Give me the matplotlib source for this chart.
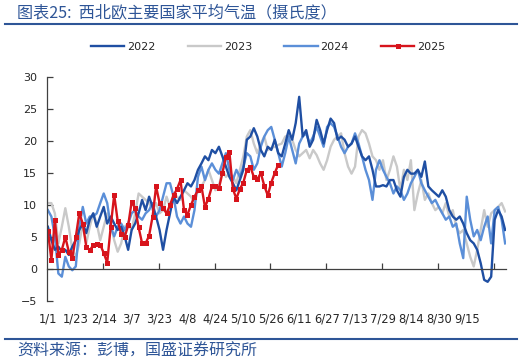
import matplotlib
matplotlib.use("Agg")
import matplotlib.pyplot as plt
from matplotlib.lines import Line2D
import numpy as np

plt.rcParams["font.family"] = ["DejaVu Sans", "Noto Sans CJK SC"]

TITLE = "图表25:  西北欧主要国家平均气温（摄氏度）"
SOURCE = "资料来源：彭博，国盛证券研究所"

# category axis: one slot per observation day, values sampled every 2 slots
N_CATEGORIES = 263
STEP = 2
LABEL_EVERY = 16
TICK_EVERY = 32
DATE_LABELS = ["1/1", "1/23", "2/14", "3/7", "3/23", "4/8", "4/24", "5/10",
               "5/26", "6/11", "6/27", "7/13", "7/29", "8/14", "8/30", "9/15"]
Y_TICKS = [-5, 0, 5, 10, 15, 20, 25, 30]

temp_2022 = [
    6.6, 4.5, 3.0, 3.5, 2.7, 3.0, 2.2, 3.5, 4.5, 6.1, 7.1, 5.6,
    7.7, 8.7, 6.6, 8.2, 9.7, 7.1, 8.2, 7.1, 6.1, 6.6, 5.1, 3.0, 6.1, 7.1, 8.7,
    10.8, 9.2, 11.3, 9.7, 8.2, 6.1, 3.0, 6.1,
    8.7, 11.3, 10.3, 11.3, 12.3, 13.4, 12.9, 13.9, 15.5, 16.5, 17.6, 17.0,
    18.6, 18.1, 19.1, 17.6, 16.0, 14.4, 13.4, 12.3, 13.9, 15.5,
    20.2, 20.7, 22.0, 20.7, 18.6,
    17.6, 19.1, 18.6, 20.2, 18.1, 17.6, 19.6, 21.7, 20.2, 22.8, 26.9, 20.7,
    21.7, 19.1, 20.2, 23.3, 21.7, 19.6, 21.7, 23.5, 22.8, 20.2, 20.7,
    20.2, 19.1, 19.6, 20.7, 19.1, 17.6, 17.0, 17.6, 15.5, 12.9, 12.9, 13.1,
    12.9, 13.9, 13.9, 12.3, 11.3, 14.4, 15.5, 14.9, 14.9, 15.5, 14.4,
    16.8, 12.9, 12.3, 11.8, 11.3, 12.3, 11.3, 9.2, 8.2, 7.7, 8.2, 7.1, 5.6,
    4.5, 4.0, 3.0, 0.9, -1.7, -2.0, -1.2, 7.7, 9.2, 8.2,
    6.1,
]

temp_2023 = [
    10.3, 10.3, 8.7, 4.0, 6.6, 9.5, 6.6, 3.0, 1.9, 4.0, 7.1, 4.0,
    6.6, 8.7, 7.1, 4.5, 6.6, 8.7, 7.1, 4.5, 2.7, 4.0, 6.6, 7.1, 6.1, 8.7,
    11.8, 11.3, 10.8, 10.3, 9.2, 10.3, 8.7, 9.2, 11.3,
    9.7, 11.8, 11.3, 10.8, 12.3, 11.8, 11.3, 10.3, 12.3, 12.9, 13.9, 15.5,
    13.9, 12.3, 12.9, 15.5, 14.4, 14.9, 14.4, 13.4, 15.5, 17.6,
    20.7, 21.7, 19.6, 18.1, 19.6,
    20.7, 18.6, 18.9, 19.1, 19.4, 19.6, 20.7, 20.9, 20.2, 18.6, 17.6, 18.1,
    18.6, 17.3, 18.6, 17.8, 16.5, 15.5, 17.0, 19.1, 20.2, 20.7, 21.2,
    18.1, 16.0, 14.9, 16.0, 20.7, 21.7, 21.2, 19.6, 17.6, 17.0, 15.5, 17.0,
    13.9, 15.5, 17.6, 16.0, 12.3, 15.5, 13.9, 17.0, 9.2, 11.8, 13.9,
    10.8, 11.8, 10.3, 9.2, 9.7, 8.7, 10.3, 8.2, 9.2, 6.6, 5.6, 6.1, 4.0,
    1.9, 0.4, 3.0, 6.1, 9.2, 6.6, 8.7, 9.2, 9.7, 10.3,
    9.0,
]

temp_2024 = [
    9.2, 8.2, 5.1, -0.7, -1.2, 1.9, 0.4, -0.2, 0.4, 6.6, 9.7, 7.1,
    8.2, 8.2, 8.7, 10.3, 11.8, 10.3, 6.6, 5.1, 6.6, 7.1, 6.1, 7.1, 8.7, 9.2,
    8.2, 7.7, 8.7, 9.2, 10.3, 8.2, 9.2, 11.3, 13.4,
    13.4, 11.3, 8.2, 7.1, 8.2, 7.1, 6.6, 9.2, 14.4, 16.0, 13.9, 15.5, 16.5,
    15.5, 14.9, 16.5, 18.1, 15.5, 13.9, 15.5, 14.4, 16.0,
    18.1, 17.6, 15.5, 16.5, 19.1,
    20.7, 21.7, 22.2, 20.2, 18.1, 16.0, 18.1, 20.7, 18.6, 16.5, 19.6, 20.7,
    21.2, 19.6, 20.7, 22.2, 20.7, 19.1, 22.2, 22.8, 22.2, 20.7, 19.1,
    18.1, 19.1, 19.6, 21.2, 19.6, 17.6, 15.5, 13.9, 10.8, 15.5, 17.0, 15.5,
    14.4, 13.4, 11.8, 12.9, 12.3, 10.8, 11.8, 13.4, 14.4, 15.5, 13.4,
    12.3, 11.3, 10.3, 10.8, 9.7, 8.7, 7.7, 8.2, 6.6, 7.1, 4.0, 1.7, 11.3,
    7.7, 5.1, 6.1, 4.5, 6.6, 8.2, 4.0, 9.2, 9.7, 7.7,
    4.0,
]

temp_2025 = [
    6.0, 1.4, 7.6, 2.2, 3.0, 5.0, 2.7, 1.7, 5.0, 8.7,
    7.1, 3.5, 2.9, 3.75, 3.9, 3.8, 2.5, 1.0, 6.6, 11.6,
    7.5, 5.5, 5.0, 6.8, 10.5, 9.5, 6.5, 4.0, 4.0, 5.2,
    8.2, 12.9, 10.3, 9.5, 8.7, 10.0, 11.5, 12.5, 13.9, 9.2,
    8.5, 10.0, 11.3, 12.3, 12.9, 9.7, 11.0, 12.9, 12.9, 12.6,
    15.0, 17.5, 18.3, 12.5, 11.0, 12.5, 13.5, 15.5, 16.0, 14.4,
    14.0, 15.0, 13.0, 11.5, 13.5, 15.0, 16.3,
]

SERIES = [
    ("2023", temp_2023, "#C9C9C9", None),
    ("2024", temp_2024, "#5B8FD8", None),
    ("2022", temp_2022, "#1F4FA3", None),
    ("2025", temp_2025, "#D7141C", "s"),
]
LEGEND_ORDER = ["2022", "2023", "2024", "2025"]

TEXT_BLUE = "#2E5597"
AXIS_COLOR = "#404040"

fig = plt.figure(figsize=(5.32, 3.64), dpi=100)
ax = fig.add_axes([47 / 532, 63 / 364, 459 / 532, 224 / 364])

handles = {}
for name, vals, color, marker in SERIES:
    x = np.arange(len(vals)) * STEP
    (ln,) = ax.plot(x, vals, color=color, lw=1.7, marker=marker,
                    markersize=3.6, markeredgewidth=0, label=name,
                    solid_joinstyle="round")
    handles[name] = ln

ax.set_xlim(-0.5, N_CATEGORIES - 0.5)
ax.set_ylim(Y_TICKS[0], Y_TICKS[-1])
ax.set_yticks(Y_TICKS)

for side in ("top", "right"):
    ax.spines[side].set_visible(False)
ax.spines["bottom"].set_position(("data", 0))
for side in ("left", "bottom"):
    ax.spines[side].set_color(AXIS_COLOR)
    ax.spines[side].set_linewidth(0.9)

ax.set_xticks(np.arange(TICK_EVERY, N_CATEGORIES, TICK_EVERY) - 0.5)
ax.tick_params(axis="x", direction="in", length=4, width=0.9,
               color=AXIS_COLOR, labelbottom=False)
ax.tick_params(axis="y", direction="in", length=4, width=0.9,
               color=AXIS_COLOR, labelsize=8, labelcolor="#262626", pad=7)

sec = ax.secondary_xaxis("bottom")
sec.set_xticks(np.arange(len(DATE_LABELS)) * LABEL_EVERY, DATE_LABELS)
sec.tick_params(length=0, labelsize=8.3, labelcolor="#262626", pad=8)
sec.spines["bottom"].set_visible(False)

fig.legend([handles[n] for n in LEGEND_ORDER], LEGEND_ORDER, loc="center",
           bbox_to_anchor=(0.504, 1 - 47 / 364), ncol=4, frameon=False,
           fontsize=8, handlelength=3.0, handletextpad=0.25,
           columnspacing=2.9, labelcolor="#262626")

cjk = ["Noto Sans CJK SC", "DejaVu Sans"]
fig.text(17 / 532, 1 - 13 / 364, TITLE, family=cjk, fontsize=11.6,
         color=TEXT_BLUE, va="center", ha="left")
fig.text(17 / 532, 1 - 351 / 364, SOURCE, family=cjk, fontsize=11.5,
         color=TEXT_BLUE, va="center", ha="left")
for ypix in (24, 339):
    fig.add_artist(Line2D([5 / 532, 517 / 532], [1 - ypix / 364] * 2,
                          transform=fig.transFigure, color=TEXT_BLUE, lw=1.5))

fig.savefig("out.png", dpi=100)
